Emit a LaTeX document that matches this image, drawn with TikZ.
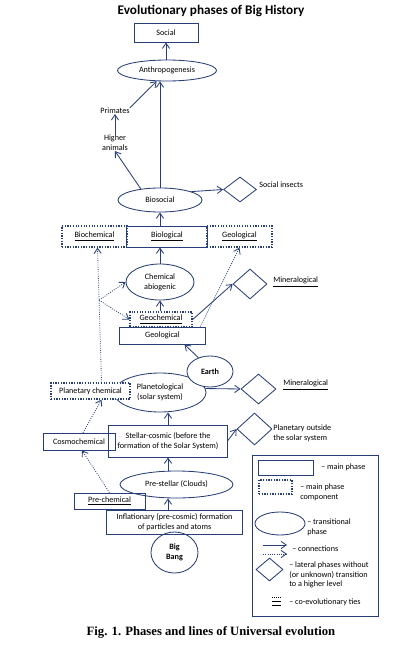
\documentclass[tikz,border=0pt]{standalone}
\usepackage{fontspec}
\setmainfont{Carlito}
\newfontfamily\capfont{Liberation Serif}
\usetikzlibrary{arrows.meta,positioning,calc,shapes.geometric}
\definecolor{navy}{RGB}{40,62,118}

\begin{document}
\begin{tikzpicture}[x=0.025cm,y=-0.025cm,
  >={Straight Barb[length=1.3mm,width=1.8mm]},
  every node/.style={font=\fontsize{5.8}{7}\selectfont,inner sep=0pt},
  mainbox/.style={draw=navy,line width=0.7pt,align=center},
  thinbox/.style={draw=navy,line width=0.5pt,align=center},
  compbox/.style={draw=navy,densely dotted,line width=0.9pt,align=center},
  trans/.style={ellipse,draw=navy,line width=0.6pt,align=center},
  lateral/.style={diamond,draw=navy,line width=0.6pt},
  link/.style={->,draw=navy,line width=0.6pt},
  dlink/.style={->,draw=navy,densely dotted,line width=0.6pt},
  lbl/.style={anchor=west,align=left}]
  \useasboundingbox (0,0) rectangle (402,652);
  \node[font=\bfseries\fontsize{9.4}{11}\selectfont] (title) at (211,11) {Evolutionary phases of Big History};
  % upper part
  \node[mainbox,minimum width=1.6cm,minimum height=0.475cm] (social) at (166,32.5) {Social};
  \node[trans,minimum width=2.475cm,minimum height=0.525cm] (anthro) at (167,70.5) {Anthropogenesis};
  \node (primates) at (115,111) {Primates};
  \node[align=center] (higher) at (115,143) {Higher\\animals};
  \node[trans,minimum width=2.1cm,minimum height=0.6cm] (biosocial) at (160,200) {Biosocial};
  \node[lateral,minimum width=0.825cm,minimum height=0.625cm] (insects) at (240,189.5) {};
  \node[lbl] (insectslbl) at (259,185) {Social insects};
  \node[compbox,minimum width=1.625cm,minimum height=0.525cm] (biochem) at (94.5,236.5) {\underline{Biochemical}};
  \node[compbox,minimum width=1.625cm,minimum height=0.525cm] (geologtop) at (239.5,236.5) {\underline{Geological}};
  \node[mainbox,minimum width=2cm,minimum height=0.525cm] (biolog) at (167,236.5) {\underline{Biological}};
  \node[trans,minimum width=1.7cm,minimum height=0.9cm] (chemab) at (160,282) {Chemical\\abiogenic};
  \node[compbox,minimum width=1.55cm,minimum height=0.375cm] (geochem) at (161,319.5) {\underline{Geochemical}};
  \node[mainbox,minimum width=2.125cm,minimum height=0.425cm] (geolbox) at (162.5,335.5) {Geological};
  \node[lateral,minimum width=0.85cm,minimum height=0.75cm] (mineral1) at (250,284) {};
  \node[lbl] (mineral1lbl) at (273,282) {\underline{Mineralogical}};
  % planetary level
  \node[trans,minimum width=2.3cm,minimum height=0.975cm] (planet) at (160,392.5) {Planetological\\(solar system)};
  \node[trans,fill=white,font=\bfseries\fontsize{5.8}{7}\selectfont,minimum width=1.15cm,minimum height=0.775cm] (earth) at (210,371.5) {Earth};
  \node[compbox,fill=white,minimum width=1.975cm,minimum height=0.4cm] (planchem) at (90.5,391) {Planetary chemical};
  \node[lateral,minimum width=0.875cm,minimum height=0.75cm] (mineral2) at (258.5,389) {};
  \node[lbl] (mineral2lbl) at (283,385) {\underline{Mineralogical}};
  % stellar level
  \node[mainbox,minimum width=2.95cm,minimum height=0.8cm] (stellar) at (168,441) {Stellar-cosmic (before the\\formation of the Solar System)};
  \node[lateral,minimum width=0.875cm,minimum height=0.8cm] (outside) at (254.5,429) {};
  \node[lbl] (outsidelbl) at (273,433) {Planetary outside\\the solar system};
  \node[thinbox,minimum width=1.8cm,minimum height=0.425cm] (cosmo) at (79,441.5) {Cosmochemical};
  \node[trans,minimum width=2.825cm,minimum height=0.675cm] (prestellar) at (176.5,484.5) {Pre-stellar (Clouds)};
  \node[thinbox,minimum width=1.775cm,minimum height=0.4cm] (prechem) at (109.5,501) {\underline{Pre-chemical}};
  \node[mainbox,minimum width=3.375cm,minimum height=0.6cm] (inflat) at (174.5,522) {Inflationary (pre-cosmic) formation\\of particles and atoms};
  \node[trans,font=\bfseries\fontsize{5.8}{7}\selectfont,minimum width=1.175cm,minimum height=1.025cm] (bigbang) at (174.5,552.5) {Big\\Bang};
  % connections
  \draw[link] (anthro.north -| social) -- (social.south);
  \draw[link] (biosocial.north) -- (biosocial.north |- anthro.south);
  \draw[link] (biosocial.150) -- (higher.south);
  \draw[link] (higher.north) -- (primates.south);
  \draw[link] (primates.north east) -- (anthro.226);
  \draw[link] (biosocial.15) -- (insects.west);
  \draw[link] (biolog.north -| biosocial) -- (biosocial.south);
  \draw[link] (chemab.north) -- (chemab.north |- biolog.south);
  \draw[link] (geochem.north -| chemab) -- (chemab.south);
  \draw[dlink] ([xshift=.275cm]planchem.north) -- coordinate[pos=0.61] (br) ([xshift=.075cm]biochem.south);
  \draw[dlink] (br) -- (chemab.west);
  \draw[dlink] (br) -- (geochem.west);
  \draw[dlink] ([xshift=-.125cm]geolbox.north east) -- (geologtop.south);
  \draw[link] (geochem.east) -- (mineral1.west);
  \draw[link] (earth.130) -- ([xshift=.55cm]geolbox.south);
  \draw[link] (planet.5) -- (mineral2.west);
  \draw[link] (stellar.north) -- (stellar.north |- planet.south);
  \draw[link] (stellar.east) -- (outside.west);
  \draw[link] (stellar.south |- prestellar.north) -- (stellar.south);
  \draw[link] (inflat.north -| stellar) -- (prestellar.south -| stellar);
  \draw[dlink] ([xshift=.1cm]cosmo.north) -- ([xshift=.275cm]planchem.south);
  \draw[dlink] (prechem.north) -- ([xshift=.075cm]cosmo.south);
  % legend
  \node[thinbox,minimum width=3.15cm,minimum height=4.025cm] (legend) at (315,535.5) {};
  \node[mainbox,minimum width=1.375cm,minimum height=0.375cm] (keymain) at (285.5,467.5) {};
  \node[lbl] (keymainlbl) at (321,467) {-- main phase};
  \node[compbox,minimum width=0.825cm,minimum height=0.35cm] (keycomp) at (275.5,487) {};
  \node[lbl] (keycomplbl) at (300,492) {-- main phase\\component};
  \node[trans,minimum width=1.25cm,minimum height=0.575cm] (keytrans) at (280,523.5) {};
  \node[lbl] (keytranslbl) at (307,527) {-- transitional\\phase};
  \coordinate (k1a) at (263,545); \coordinate (k1b) at (287,545);
  \coordinate (k2a) at (263,554); \coordinate (k2b) at (287,554);
  \draw[link] (k1a) -- (k1b);
  \draw[dlink] (k2a) -- (k2b);
  \node[lbl] (keylinklbl) at (292,549) {-- connections};
  \node[lateral,minimum width=0.675cm,minimum height=0.575cm] (keylat) at (269.5,569.5) {};
  \node[lbl] (keylatlbl) at (289,575) {-- lateral phases without\\(or unknown) transition\\to a higher level};
  \coordinate (k3a) at (272,597); \coordinate (k3b) at (281,597);
  \coordinate (k4a) at (272,601.5); \coordinate (k4b) at (281,601.5);
  \coordinate (k5a) at (272,605.5); \coordinate (k5b) at (281,605.5);
  \draw[densely dotted,line width=0.5pt] (k3a) -- (k3b);
  \draw[line width=1pt] (k4a) -- (k4b);
  \draw[line width=1pt] (k5a) -- (k5b);
  \node[lbl] (keycoevlbl) at (289,602) {-- co-evolutionary ties};
  \node[font=\capfont\bfseries\fontsize{9}{11}\selectfont] (caption) at (211,632) {Fig. 1. Phases and lines of Universal evolution};
\end{tikzpicture}
\end{document}
